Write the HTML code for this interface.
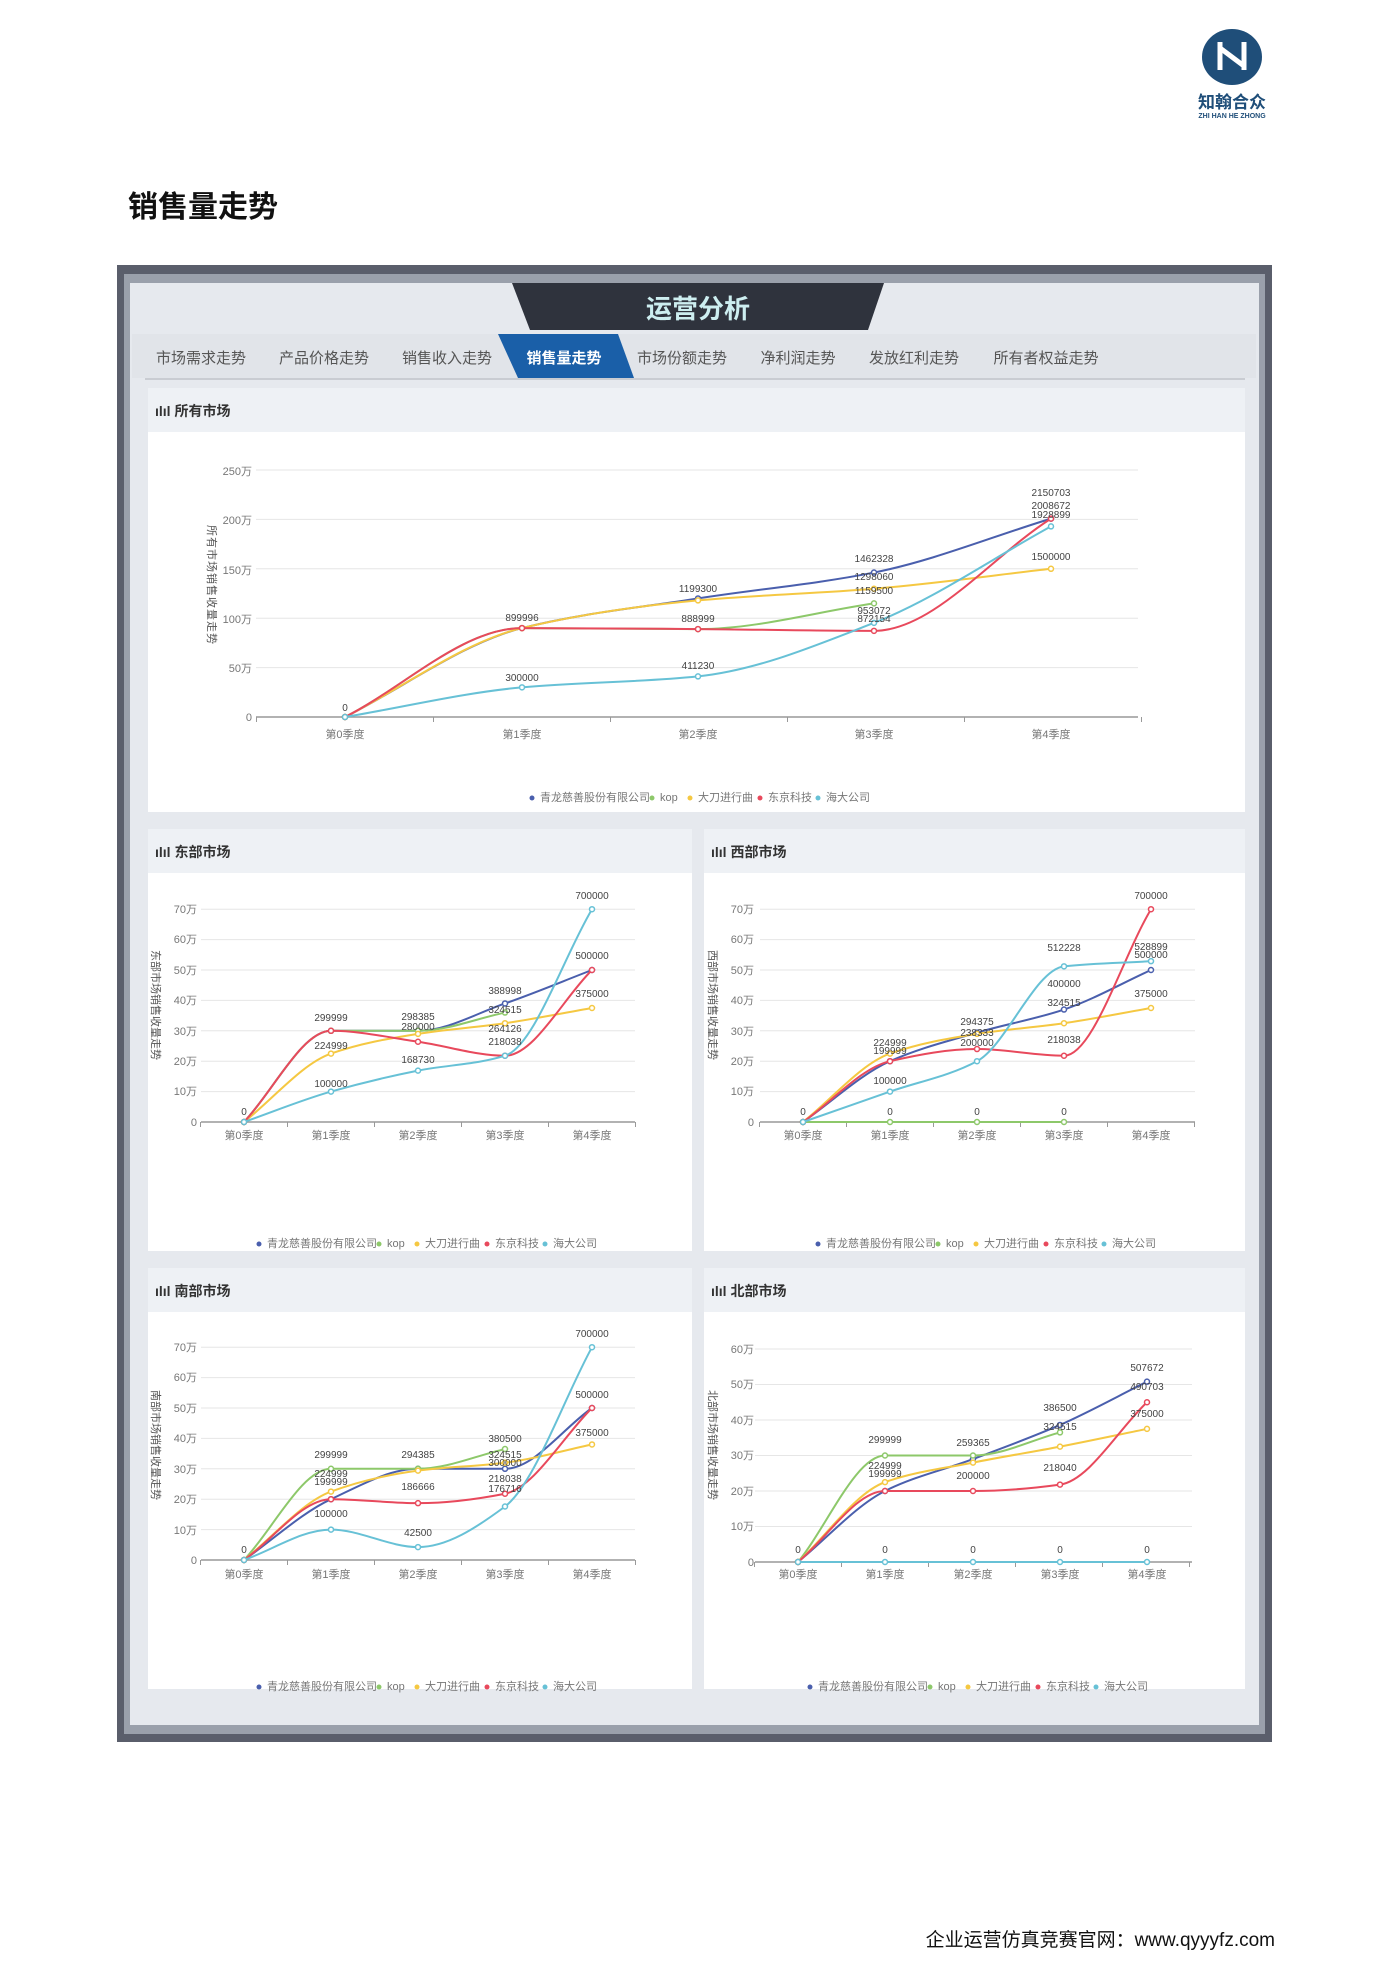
<!DOCTYPE html>
<html><head><meta charset="utf-8">
<style>
body{margin:0;background:#fff;}
svg{display:block;font-family:"Liberation Sans","Noto Sans CJK SC",sans-serif;}
.t{font-size:11px;fill:#555;}
.tk{font-size:11px;fill:#777;}
.lb{font-size:10px;fill:#444;}
.ph{font-size:14px;font-weight:bold;fill:#333;}
.tab{font-size:15px;fill:#555;}
</style></head>
<body>
<svg id="s" width="1400" height="1980" viewBox="0 0 1400 1980" xmlns="http://www.w3.org/2000/svg">
<rect width="1400" height="1980" fill="#fff"/>
<ellipse cx="1232" cy="57" rx="30" ry="28" fill="#1f4e79"/>
<path d="M1220 42 L1220 70 M1244 42 L1244 70 M1220 48 L1244 66" stroke="#fff" stroke-width="5" fill="none"/>
<text x="1232" y="108" text-anchor="middle" font-size="17" font-weight="bold" fill="#1f4e79">知翰合众</text>
<text x="1232" y="118" text-anchor="middle" font-size="7" font-weight="bold" fill="#1f4e79">ZHI HAN HE ZHONG</text>
<text x="128" y="217" font-size="30" font-weight="bold" fill="#111">销售量走势</text>
<rect x="117" y="265" width="1155" height="1477" fill="#5a5e6b"/>
<rect x="124" y="274" width="1141" height="1460" fill="#9aa0ab"/>
<rect x="130" y="283" width="1129" height="1442" fill="#e6e9ee"/>
<polygon points="512,283 884,283 868,330 530,330" fill="#2f333d"/>
<text x="698" y="318" text-anchor="middle" font-size="26" font-weight="bold" fill="#cdeef0">运营分析</text>
<rect x="132" y="334" width="1124" height="44" fill="#e1e4e9"/>
<line x1="145" y1="379" x2="1245" y2="379" stroke="#c9ccd2" stroke-width="2"/>
<polygon points="498,334 618,334 634,378 518,378" fill="#1a5fa8"/>
<g class="tab" text-anchor="middle">
<text x="201" y="363">市场需求走势</text><text x="324" y="363">产品价格走势</text><text x="447" y="363">销售收入走势</text>
<text x="564" y="363" fill="#fff" font-weight="bold">销售量走势</text>
<text x="682" y="363">市场份额走势</text><text x="798" y="363">净利润走势</text><text x="914" y="363">发放红利走势</text><text x="1046" y="363">所有者权益走势</text>
</g>
<g fill="#fff">
<rect x="148" y="388" width="1097" height="424"/>
<rect x="148" y="829" width="544" height="422"/><rect x="704" y="829" width="541" height="422"/>
<rect x="148" y="1268" width="544" height="421"/><rect x="704" y="1268" width="541" height="421"/>
</g>
<g fill="#eef1f5">
<rect x="148" y="388" width="1097" height="44"/>
<rect x="148" y="829" width="544" height="44"/><rect x="704" y="829" width="541" height="44"/>
<rect x="148" y="1268" width="544" height="44"/><rect x="704" y="1268" width="541" height="44"/>
</g>
<g class="ph">
<text x="155" y="416">ılıl 所有市场</text>
<text x="155" y="857">ılıl 东部市场</text><text x="711" y="857">ılıl 西部市场</text>
<text x="155" y="1296">ılıl 南部市场</text><text x="711" y="1296">ılıl 北部市场</text>
</g>
<g class="t" font-size="12">
<text transform="translate(208,525) rotate(90)" letter-spacing="1">所有市场销售收量走势</text>
<text transform="translate(152,950) rotate(90)">东部市场销售收量走势</text>
<text transform="translate(709,950) rotate(90)">西部市场销售收量走势</text>
<text transform="translate(152,1390) rotate(90)">南部市场销售收量走势</text>
<text transform="translate(709,1390) rotate(90)">北部市场销售收量走势</text>
</g>
<g id="grids"></g>
<g id="lines"></g>
<g class="tk" text-anchor="end">
<text x="252" y="475">250万</text><text x="252" y="524">200万</text><text x="252" y="574">150万</text><text x="252" y="623">100万</text><text x="252" y="672">50万</text><text x="252" y="721">0</text>
</g>
<g class="tk" text-anchor="middle">
<text x="345" y="738">第0季度</text><text x="522" y="738">第1季度</text><text x="698" y="738">第2季度</text><text x="874" y="738">第3季度</text><text x="1051" y="738">第4季度</text>
</g>
<g class="tk" text-anchor="end">
<text x="197" y="913">70万</text><text x="197" y="943">60万</text><text x="197" y="974">50万</text><text x="197" y="1004">40万</text><text x="197" y="1035">30万</text><text x="197" y="1065">20万</text><text x="197" y="1095">10万</text><text x="197" y="1126">0</text>
<text x="754" y="913">70万</text><text x="754" y="943">60万</text><text x="754" y="974">50万</text><text x="754" y="1004">40万</text><text x="754" y="1035">30万</text><text x="754" y="1065">20万</text><text x="754" y="1095">10万</text><text x="754" y="1126">0</text>
<text x="197" y="1351">70万</text><text x="197" y="1381">60万</text><text x="197" y="1412">50万</text><text x="197" y="1442">40万</text><text x="197" y="1473">30万</text><text x="197" y="1503">20万</text><text x="197" y="1534">10万</text><text x="197" y="1564">0</text>
<text x="754" y="1353">60万</text><text x="754" y="1388">50万</text><text x="754" y="1424">40万</text><text x="754" y="1459">30万</text><text x="754" y="1495">20万</text><text x="754" y="1530">10万</text><text x="754" y="1566">0</text>
</g>
<g class="tk" text-anchor="middle" font-size="10">
<text x="244" y="1139">第0季度</text><text x="331" y="1139">第1季度</text><text x="418" y="1139">第2季度</text><text x="505" y="1139">第3季度</text><text x="592" y="1139">第4季度</text>
<text x="803" y="1139">第0季度</text><text x="890" y="1139">第1季度</text><text x="977" y="1139">第2季度</text><text x="1064" y="1139">第3季度</text><text x="1151" y="1139">第4季度</text>
<text x="244" y="1578">第0季度</text><text x="331" y="1578">第1季度</text><text x="418" y="1578">第2季度</text><text x="505" y="1578">第3季度</text><text x="592" y="1578">第4季度</text>
<text x="798" y="1578">第0季度</text><text x="885" y="1578">第1季度</text><text x="973" y="1578">第2季度</text><text x="1060" y="1578">第3季度</text><text x="1147" y="1578">第4季度</text>
</g>
<g class="lb" text-anchor="middle">
<text x="345" y="711">0</text><text x="522" y="621">899996</text><text x="522" y="681">300000</text>
<text x="698" y="592">1199300</text><text x="698" y="622">888999</text><text x="698" y="669">411230</text>
<text x="874" y="562">1462328</text><text x="874" y="580">1298060</text><text x="874" y="594">1159500</text><text x="874" y="614">953072</text><text x="874" y="622">872154</text>
<text x="1051" y="496">2150703</text><text x="1051" y="509">2008672</text><text x="1051" y="518">1928899</text><text x="1051" y="560">1500000</text>
</g>
<g class="lb" text-anchor="middle">
<text x="244" y="1115">0</text><text x="331" y="1021">299999</text><text x="331" y="1049">224999</text><text x="331" y="1087">100000</text>
<text x="418" y="1020">298385</text><text x="418" y="1030">280000</text><text x="418" y="1063">168730</text>
<text x="505" y="994">388998</text><text x="505" y="1013">324515</text><text x="505" y="1032">264126</text><text x="505" y="1045">218038</text>
<text x="592" y="899">700000</text><text x="592" y="959">500000</text><text x="592" y="997">375000</text>
<text x="890" y="1046">224999</text><text x="890" y="1054">199999</text><text x="890" y="1084">100000</text><text x="890" y="1115">0</text><text x="803" y="1115">0</text>
<text x="977" y="1025">294375</text><text x="977" y="1036">238333</text><text x="977" y="1046">200000</text><text x="977" y="1115">0</text>
<text x="1064" y="951">512228</text><text x="1064" y="987">400000</text><text x="1064" y="1006">324515</text><text x="1064" y="1043">218038</text><text x="1064" y="1115">0</text>
<text x="1151" y="899">700000</text><text x="1151" y="950">528899</text><text x="1151" y="958">500000</text><text x="1151" y="997">375000</text>
<text x="244" y="1553">0</text><text x="331" y="1458">299999</text><text x="331" y="1477">224999</text><text x="331" y="1485">199999</text><text x="331" y="1517">100000</text>
<text x="418" y="1458">294385</text><text x="418" y="1490">186666</text><text x="418" y="1536">42500</text>
<text x="505" y="1442">380500</text><text x="505" y="1458">324515</text><text x="505" y="1466">300000</text><text x="505" y="1482">218038</text><text x="505" y="1492">176716</text>
<text x="592" y="1337">700000</text><text x="592" y="1398">500000</text><text x="592" y="1436">375000</text>
<text x="798" y="1553">0</text><text x="885" y="1443">299999</text><text x="885" y="1469">224999</text><text x="885" y="1477">199999</text><text x="885" y="1553">0</text>
<text x="973" y="1446">259365</text><text x="973" y="1479">200000</text><text x="973" y="1553">0</text>
<text x="1060" y="1411">386500</text><text x="1060" y="1430">324515</text><text x="1060" y="1471">218040</text><text x="1060" y="1553">0</text>
<text x="1147" y="1371">507672</text><text x="1147" y="1390">490703</text><text x="1147" y="1417">375000</text><text x="1147" y="1553">0</text>
</g>
<g class="tk" font-size="10">
<g transform="translate(532,801)"><circle cx="0" cy="-3" r="2.5" fill="#4a5fad"/><text x="8" y="0">青龙慈善股份有限公司</text><circle cx="120" cy="-3" r="2.5" fill="#8dc86a"/><text x="128" y="0">kop</text><circle cx="158" cy="-3" r="2.5" fill="#f5c842"/><text x="166" y="0">大刀进行曲</text><circle cx="228" cy="-3" r="2.5" fill="#e8495c"/><text x="236" y="0">东京科技</text><circle cx="286" cy="-3" r="2.5" fill="#67c1d6"/><text x="294" y="0">海大公司</text></g>
<g transform="translate(259,1247)"><circle cx="0" cy="-3" r="2.5" fill="#4a5fad"/><text x="8" y="0">青龙慈善股份有限公司</text><circle cx="120" cy="-3" r="2.5" fill="#8dc86a"/><text x="128" y="0">kop</text><circle cx="158" cy="-3" r="2.5" fill="#f5c842"/><text x="166" y="0">大刀进行曲</text><circle cx="228" cy="-3" r="2.5" fill="#e8495c"/><text x="236" y="0">东京科技</text><circle cx="286" cy="-3" r="2.5" fill="#67c1d6"/><text x="294" y="0">海大公司</text></g>
<g transform="translate(818,1247)"><circle cx="0" cy="-3" r="2.5" fill="#4a5fad"/><text x="8" y="0">青龙慈善股份有限公司</text><circle cx="120" cy="-3" r="2.5" fill="#8dc86a"/><text x="128" y="0">kop</text><circle cx="158" cy="-3" r="2.5" fill="#f5c842"/><text x="166" y="0">大刀进行曲</text><circle cx="228" cy="-3" r="2.5" fill="#e8495c"/><text x="236" y="0">东京科技</text><circle cx="286" cy="-3" r="2.5" fill="#67c1d6"/><text x="294" y="0">海大公司</text></g>
<g transform="translate(259,1690)"><circle cx="0" cy="-3" r="2.5" fill="#4a5fad"/><text x="8" y="0">青龙慈善股份有限公司</text><circle cx="120" cy="-3" r="2.5" fill="#8dc86a"/><text x="128" y="0">kop</text><circle cx="158" cy="-3" r="2.5" fill="#f5c842"/><text x="166" y="0">大刀进行曲</text><circle cx="228" cy="-3" r="2.5" fill="#e8495c"/><text x="236" y="0">东京科技</text><circle cx="286" cy="-3" r="2.5" fill="#67c1d6"/><text x="294" y="0">海大公司</text></g>
<g transform="translate(810,1690)"><circle cx="0" cy="-3" r="2.5" fill="#4a5fad"/><text x="8" y="0">青龙慈善股份有限公司</text><circle cx="120" cy="-3" r="2.5" fill="#8dc86a"/><text x="128" y="0">kop</text><circle cx="158" cy="-3" r="2.5" fill="#f5c842"/><text x="166" y="0">大刀进行曲</text><circle cx="228" cy="-3" r="2.5" fill="#e8495c"/><text x="236" y="0">东京科技</text><circle cx="286" cy="-3" r="2.5" fill="#67c1d6"/><text x="294" y="0">海大公司</text></g>
</g>
<text x="1275" y="1946" text-anchor="end" font-size="19" fill="#111">企业运营仿真竞赛官网：www.qyyyfz.com</text>
</svg>
<script>
var NS="http://www.w3.org/2000/svg",G=document.getElementById("grids"),L=document.getElementById("lines");
var C=["#4a5fad","#8dc86a","#f5c842","#e8495c","#67c1d6"];
function el(t,a,p){var e=document.createElementNS(NS,t);for(var k in a)e.setAttribute(k,a[k]);p.appendChild(e);return e;}
function mono(P){
 var n=P.length,d=[],m=[];
 for(var i=0;i<n-1;i++)d.push((P[i+1][1]-P[i][1])/(P[i+1][0]-P[i][0]));
 for(var i=0;i<n;i++){
  if(i==0)m.push(d[0]);else if(i==n-1)m.push(d[n-2]);
  else if(d[i-1]*d[i]<=0)m.push(0);else m.push(2/(1/d[i-1]+1/d[i]));
 }
 var s="M"+P[0][0]+","+P[0][1];
 for(var i=0;i<n-1;i++){var h=(P[i+1][0]-P[i][0])/3;
  s+=" C"+(P[i][0]+h)+","+(P[i][1]+m[i]*h)+" "+(P[i+1][0]-h)+","+(P[i+1][1]-m[i+1]*h)+" "+P[i+1][0]+","+P[i+1][1];}
 return s;
}
function chart(o){
 for(var i=0;i<=o.n;i++){var y=o.y0-i*o.step*o.k;el("line",{x1:o.gx1,x2:o.gx2,y1:y,y2:y,stroke:i?"#e6e6e6":"#999","stroke-width":i?1:1.5},G);}
 var w=(o.xs[1]-o.xs[0])/2;
 for(var i=0;i<=o.xs.length;i++){var x=o.xs[0]-w+i*2*w;el("line",{x1:x,x2:x,y1:o.y0,y2:o.y0+5,stroke:"#999"},G);}
 o.s.forEach(function(d,si){
  var P=d.map(function(v,i){return [o.xs[i],o.y0-v*o.k];});
  el("path",{d:mono(P),fill:"none",stroke:C[si],"stroke-width":2},L);
  P.forEach(function(p){el("circle",{cx:p[0],cy:p[1],r:2.5,fill:"#fff",stroke:C[si],"stroke-width":1.5},L);});
 });
}
chart({xs:[345,522,698,874,1051],y0:717,k:0.988,step:50,n:5,gx1:256,gx2:1138,
 s:[[0,90,120,146.2,200.8],[0,90,89,115],[0,90,118,129.8,150],[0,90,89,87.2,200.8],[0,30,41.1,95.3,192.9]]});
chart({xs:[244,331,418,505,592],y0:1122,k:3.04,step:10,n:7,gx1:201,gx2:635,
 s:[[0,30,30,39,50],[0,30,30,36],[0,22.5,29,32.5,37.5],[0,30,26.4,21.8,50],[0,10,16.9,21.8,70]]});
chart({xs:[803,890,977,1064,1151],y0:1122,k:3.04,step:10,n:7,gx1:760,gx2:1195,
 s:[[0,20,29.4,37,50],[0,0,0,0],[0,22.5,29,32.5,37.5],[0,20,24,21.8,70],[0,10,20,51.2,52.9]]});
chart({xs:[244,331,418,505,592],y0:1560,k:3.04,step:10,n:7,gx1:201,gx2:635,
 s:[[0,20,30,30,50],[0,30,30,36.5],[0,22.5,29.4,32,38],[0,20,18.7,21.8,50],[0,10,4.25,17.6,70]]});
chart({xs:[798,885,973,1060,1147],y0:1562,k:3.55,step:10,n:6,gx1:755,gx2:1192,
 s:[[0,20,29,38.6,50.8],[0,30,30,36.5],[0,22.5,28,32.5,37.5],[0,20,20,21.8,45],[0,0,0,0,0]]});
</script>
</body></html>
